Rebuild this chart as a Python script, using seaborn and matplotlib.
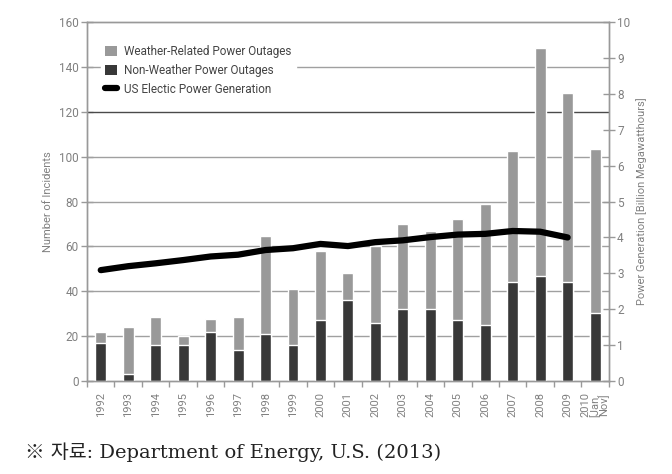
import numpy as np
import pandas as pd
import matplotlib
matplotlib.use("Agg")
import matplotlib.pyplot as plt
import seaborn as sns
from matplotlib.patches import Patch
from matplotlib.lines import Line2D
from matplotlib.ticker import FixedLocator

years = ["1992", "1993", "1994", "1995", "1996", "1997", "1998", "1999", "2000",
         "2001", "2002", "2003", "2004", "2005", "2006", "2007", "2008", "2009",
         "2010\n[Jan.\nNov]"]
total_outages = [22, 24, 28.5, 20, 27.5, 28.5, 64.5, 41, 58, 48, 60, 70, 67, 72,
                 79, 102.5, 148.5, 128.5, 103.5]
non_weather = [17, 3, 16, 16, 22, 14, 21, 16, 27, 36, 26, 32, 32, 27, 25, 44,
               47, 44, 30.5]
gen_years = years[:18]
generation = [3.09, 3.20, 3.28, 3.37, 3.47, 3.52, 3.65, 3.70, 3.82, 3.76, 3.87,
              3.92, 4.01, 4.08, 4.10, 4.18, 4.16, 4.00]

sns.set_theme(style="white")
plt.rcParams['font.family'] = ['Roboto', 'DejaVu Sans']

TXT = "#808080"
LIGHT = "#999999"
DARK = "#383838"

fig = plt.figure(figsize=(6.72, 4.74), dpi=100)
ax1 = fig.add_axes([0.1295, 0.196, 0.7765, 0.7576])

df = pd.DataFrame({"year": years, "total": total_outages, "non": non_weather})
sns.barplot(data=df, x="year", y="total", color=LIGHT, width=0.4, ax=ax1,
            saturation=1, zorder=2)
sns.barplot(data=df, x="year", y="non", color=DARK, width=0.4, ax=ax1,
            saturation=1, zorder=3)
ax1.set_xlim(-0.5, len(years) - 0.5)
ax1.set_ylim(0, 160)
ax1.set_yticks(np.arange(0, 161, 20))
for v in range(20, 160, 20):
    ax1.axhline(v, color="#4a4a4a" if v == 120 else "#a0a0a0", lw=1.0, zorder=1)
ax1.set_xlabel("")
ax1.set_ylabel("Number of Incidents", color=TXT, fontsize=8)
ax1.tick_params(axis="y", direction="inout", length=8, width=1, color="#999999",
                labelsize=8.5, labelcolor=TXT, pad=2, left=True)
ax1.tick_params(axis="x", which="major", length=0, labelsize=8, labelcolor=TXT,
                rotation=90, pad=8)
ax1.xaxis.set_minor_locator(FixedLocator(np.arange(-0.5, len(years), 1.0)))
ax1.tick_params(axis="x", which="minor", direction="out", length=4, width=1,
                color="#999999", bottom=True)
for lbl in ax1.get_xticklabels():
    lbl.set_verticalalignment("top")
    lbl.set_linespacing(0.85)
for s in ax1.spines.values():
    s.set_color("#999999")
    s.set_linewidth(1)

ax2 = ax1.twinx()
sns.lineplot(x=np.arange(len(gen_years)), y=generation, ax=ax2, color="black",
             lw=4.5, solid_capstyle="round", zorder=5)
ax2.set_ylim(0, 10)
ax2.set_yticks(np.arange(0, 11, 1))
ax2.set_ylabel("Power Generation [Billion Megawatthours]", color=TXT, fontsize=8)
ax2.tick_params(axis="y", direction="inout", length=8, width=1, color="#999999",
                labelsize=8.5, labelcolor=TXT, pad=2, right=True)
for s in ax2.spines.values():
    s.set_color("#999999")
    s.set_linewidth(1)

handles = [Patch(facecolor=LIGHT, edgecolor="none"),
           Patch(facecolor=DARK, edgecolor="none"),
           Line2D([0], [0], color="black", lw=4.5, solid_capstyle="round")]
labels = ["Weather-Related Power Outages", "Non-Weather Power Outages",
          "US Electic Power Generation"]
leg = ax2.legend(handles, labels, loc="upper left", bbox_to_anchor=(0.015, 0.965),
                 frameon=True, facecolor="white", edgecolor="white", framealpha=1,
                 fontsize=8.5, labelcolor="#444444", handlelength=1.0,
                 handleheight=1.0, handletextpad=0.6, borderpad=0.4,
                 labelspacing=0.5, fancybox=False)

fig.text(0.037, 0.033, "※ 자료: Department of Energy, U.S. (2013)",
         family=["DejaVu Serif", "Noto Sans CJK KR"], fontsize=14,
         color="#222222")

fig.savefig("out.png", dpi=100)
